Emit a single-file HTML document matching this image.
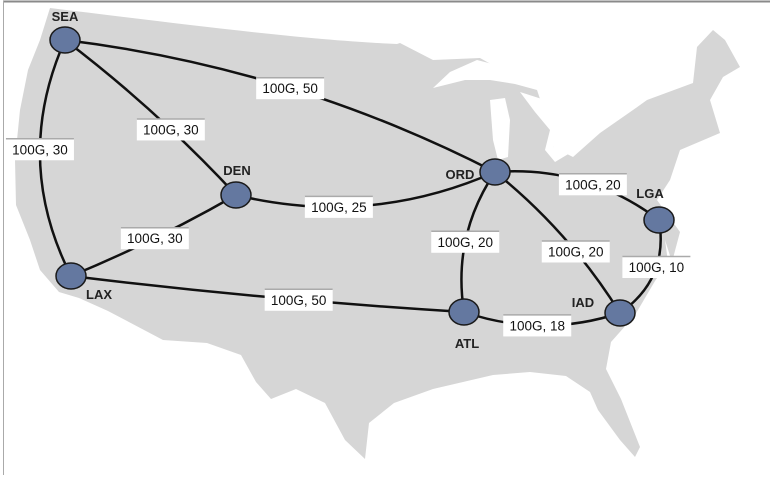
<!DOCTYPE html>
<html><head><meta charset="utf-8"><style>
html,body{margin:0;padding:0;background:#fff;}
svg{display:block;font-family:"Liberation Sans",Arial,sans-serif;}
</style></head><body>
<svg id="chart" width="770" height="478" viewBox="0 0 770 478">
<rect x="0" y="0" width="770" height="478" fill="#fff"/>
<line x1="3" y1="1.5" x2="770" y2="1.5" stroke="#8a8a8a" stroke-width="2"/>
<line x1="3.5" y1="1" x2="3.5" y2="475" stroke="#aaa" stroke-width="1"/>
<path fill="#d6d6d6" d="
M50,8 C150,20 300,40 397,44 L400,43 L433,60 L480,58 L537,90 L543,108 L557,127 L553,147 L573,157 L600,133 L633,110 L647,100 L693,83 L697,47 L713,30 L725,40 L740,67 L723,77 L710,100 L720,133 L680,150 L670,180 L657,200 L680,232 L672,262 L665,240 L668,262 L655,281 L635,315 L611,342 L606,369 L621,399 L640,447 L635,457 L620,440 L598,410 L590,392 L566,376 L530,372 L493,375 L433,389 L394,403 L369,423 L365,459 L345,440 L325,403 L296,389 L271,399 L256,382 L241,355 L207,343 L163,340 L108,311 L79,298 L59,292 L40,270 L30,240 L16,205 L15,160 L20,110 L28,70 L40,40 Z"/>
<path fill="#fff" d="M433,88 L450,72 L477,60 L500,66 L520,78 L537,90 L515,84 L490,80 L465,80 Z"/>
<path fill="#fff" d="M490,100 L505,98 L510,120 L508,157 L498,160 L493,140 Z"/>
<path fill="#fff" d="M520,92 L545,100 L560,130 L553,147 L575,150 L555,162 L545,150 L550,130 L535,112 Z"/>
<g id="edges"></g>
<g id="labels"></g>
<g id="nodes"></g>
</svg>
<script>
const nodeNames = ["SEA","DEN","ORD","LGA","IAD","ATL","LAX"];
const nodeX = [65,236,495,659,620,464,71];
const nodeY = [40,195,172,220,313,312,276];
const labelDX = [0,1,-35,-9,-37,3,28];
const labelDY = [-24,-25,2,-27,-11,31,18];
const edgeFrom = ["SEA","SEA","SEA","DEN","DEN","LAX","ORD","ORD","ORD","LGA","ATL"];
const edgeTo   = ["ORD","DEN","LAX","ORD","LAX","ATL","LGA","ATL","IAD","IAD","IAD"];
const edgeCap  = ["100G","100G","100G","100G","100G","100G","100G","100G","100G","100G","100G"];
const edgeCost = [50,30,30,25,30,50,20,20,20,10,18];
const edgeBend = [-20,-5,28,22,-3,3,-16,14,-8,-16,13];
const labelT   = [0.51,0.6,0.46,0.39,0.5,0.58,0.57,0.52,0.6,0.44,0.47];
const NS="http://www.w3.org/2000/svg";
const gE=document.getElementById('edges'),gL=document.getElementById('labels'),gN=document.getElementById('nodes');
function idx(n){return nodeNames.indexOf(n);}
edgeFrom.forEach((f,i)=>{
  const a=idx(f),b=idx(edgeTo[i]);
  const x1=nodeX[a],y1=nodeY[a],x2=nodeX[b],y2=nodeY[b];
  const mx=(x1+x2)/2,my=(y1+y2)/2,dx=x2-x1,dy=y2-y1,L=Math.hypot(dx,dy);
  const nx=-dy/L,ny=dx/L;
  const cx=mx+nx*edgeBend[i]*2,cy=my+ny*edgeBend[i]*2;
  const p=document.createElementNS(NS,'path');
  p.setAttribute('d',`M${x1},${y1} Q${cx},${cy} ${x2},${y2}`);
  p.setAttribute('fill','none');p.setAttribute('stroke','#111');p.setAttribute('stroke-width','2.5');
  
  
  gE.appendChild(p);
  const t=labelT[i];
  const lx=(1-t)*(1-t)*x1+2*t*(1-t)*cx+t*t*x2, ly=(1-t)*(1-t)*y1+2*t*(1-t)*cy+t*t*y2;
  const g=document.createElementNS(NS,'g');
  
  
  const r=document.createElementNS(NS,'rect');
  r.setAttribute('x',lx-34);r.setAttribute('y',ly-11);r.setAttribute('width',68);r.setAttribute('height',22);
  r.setAttribute('fill','#fff');
  const tl=document.createElementNS(NS,'line');
  tl.setAttribute('x1',lx-34);tl.setAttribute('x2',lx+34);tl.setAttribute('y1',ly-10.5);tl.setAttribute('y2',ly-10.5);
  tl.setAttribute('stroke','#aaa');tl.setAttribute('stroke-width','1.5');
  const tx=document.createElementNS(NS,'text');
  tx.setAttribute('x',lx);tx.setAttribute('y',ly+5);tx.setAttribute('text-anchor','middle');
  tx.setAttribute('font-size','13.5');tx.setAttribute('fill','#111');
  tx.textContent=edgeCap[i]+', '+edgeCost[i];
  g.appendChild(r);g.appendChild(tl);g.appendChild(tx);gL.appendChild(g);
});
nodeNames.forEach((n,i)=>{
  const e=document.createElementNS(NS,'ellipse');
  e.setAttribute('cx',nodeX[i]);e.setAttribute('cy',nodeY[i]);e.setAttribute('rx',15);e.setAttribute('ry',13);
  e.setAttribute('fill','#6478a0');e.setAttribute('stroke','#1a1a1a');e.setAttribute('stroke-width','1.5');
  
  
  gN.appendChild(e);
  const t=document.createElementNS(NS,'text');
  t.setAttribute('x',nodeX[i]+labelDX[i]);t.setAttribute('y',nodeY[i]+labelDY[i]+5);
  t.setAttribute('text-anchor','middle');t.setAttribute('font-size','13');t.setAttribute('font-weight','bold');t.setAttribute('fill','#222');
  t.textContent=n;
  
  
  gN.appendChild(t);
});
</script>
</body></html>
